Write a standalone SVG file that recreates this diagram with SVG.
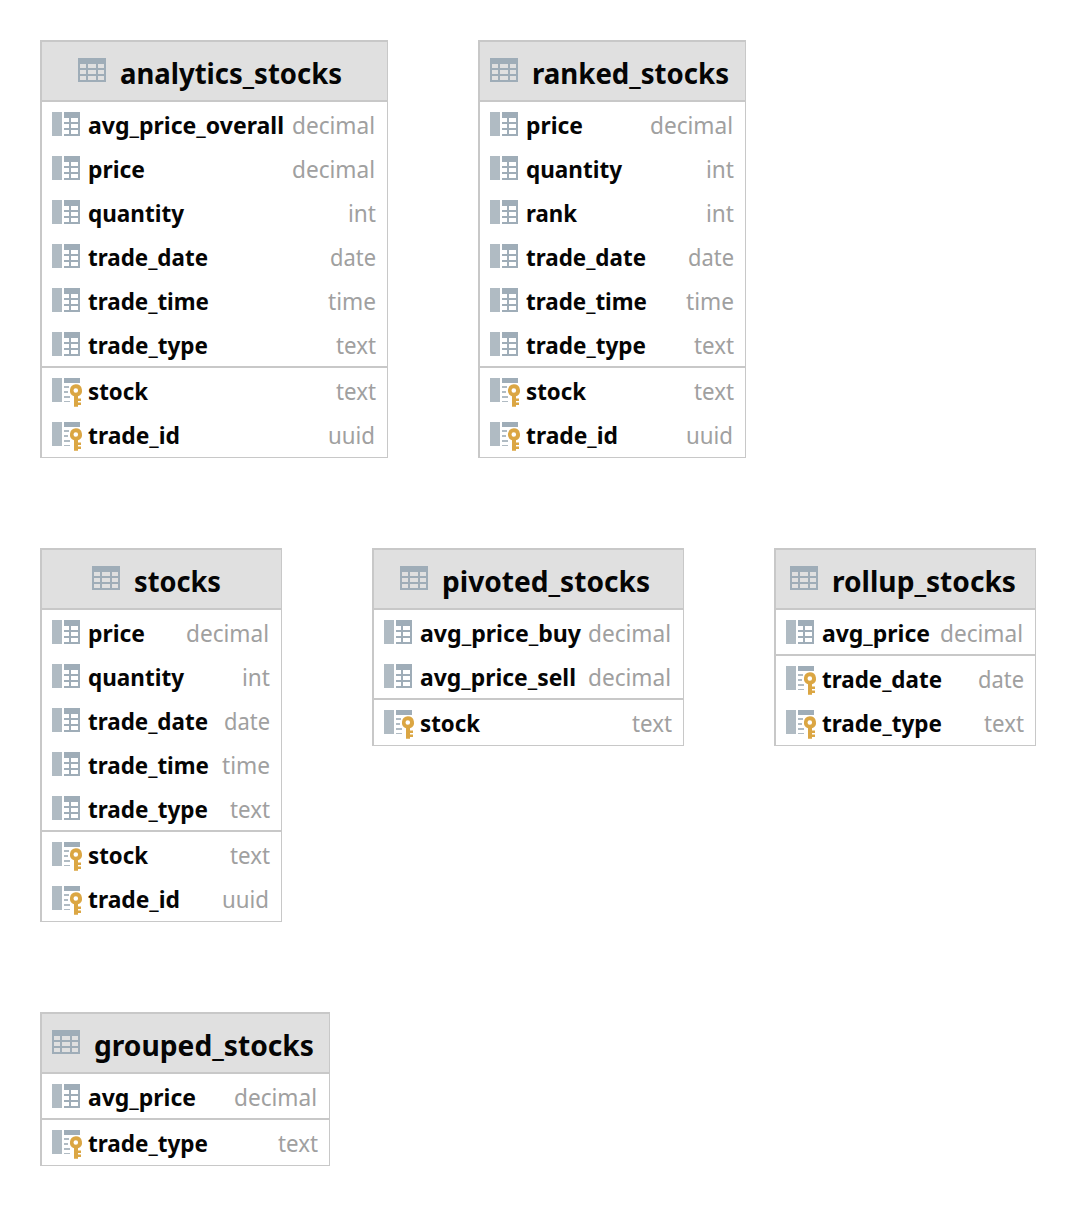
<svg xmlns="http://www.w3.org/2000/svg" width="1076" height="1206" viewBox="0 0 1076 1206">
<style>
text{font-family:"Noto Sans","Open Sans","Liberation Sans",sans-serif}
.edge{fill:#c8c8c8}
.box{fill:#fff}
.head{fill:#e0e0e0}
.div{stroke:#c8c8c8;stroke-width:2;fill:none}
.t{font-size:29px;font-weight:700;fill:#050505}
.n{font-size:24px;font-weight:700;fill:#050505}
.y{font-size:24px;font-weight:400;fill:#a0a0a0}
</style>
<defs>
<g id="ti"><rect width="28" height="24" fill="#9fadb8"/><path fill="#e0e0e0" d="M2 6h6v4H2zM10 6h8v4h-8zM20 6h6v4h-6zM2 12h6v4H2zM10 12h8v4h-8zM20 12h6v4h-6zM2 18h6v4H2zM10 18h8v4h-8zM20 18h6v4h-6z"/></g>
<g id="ci"><rect width="10" height="24" fill="#b0bbc3"/><rect x="12" width="16" height="24" fill="#9fadb8"/><path fill="#fff" d="M12 6h5v4h-5zM19 6h7v4h-7zM12 12h5v4h-5zM19 12h7v4h-7zM12 18h5v4h-5zM19 18h7v4h-7z"/></g>
<g id="ki"><rect width="10" height="24" fill="#b0bbc3"/><rect x="12" width="16" height="5" fill="#9fadb8"/><path fill="#b0bbc3" d="M12 8h5v2h-5zM12 13h4v2h-4zM12 18h6v2h-6zM12 23h6v1h-6z"/><path fill="#dba643" fill-rule="evenodd" d="M23.800 6.300a6.200 6.200 0 0 1 2.200 12V20.500h3V23h-3v1.500h3V27h-3v1.700h-4V18.300a6.200 6.200 0 0 1 1.800-12zM23.800 10.200a2.300 2.300 0 1 0 0 4.600a2.300 2.300 0 1 0 0-4.600z"/></g>
</defs>
<g id="connectors"/>

<g id="analytics_stocks">
<rect class="edge" x="40" y="40" width="348" height="418"/><rect class="box" x="42" y="42" width="345" height="415"/><rect class="head" x="42" y="42" width="345" height="58"/>
<path class="div" d="M42 101H387M42 367H387"/>
<use href="#ti" x="78" y="58"/><text class="t" x="120" y="84" textLength="222" lengthAdjust="spacingAndGlyphs">analytics_stocks</text>
<use href="#ci" x="52" y="112"/><text class="n" x="88" y="134" textLength="196" lengthAdjust="spacingAndGlyphs">avg_price_overall</text><text class="y" x="292" y="134" textLength="83" lengthAdjust="spacingAndGlyphs">decimal</text>
<use href="#ci" x="52" y="156"/><text class="n" x="88" y="178" textLength="57" lengthAdjust="spacingAndGlyphs">price</text><text class="y" x="292" y="178" textLength="83" lengthAdjust="spacingAndGlyphs">decimal</text>
<use href="#ci" x="52" y="200"/><text class="n" x="88" y="222" textLength="96" lengthAdjust="spacingAndGlyphs">quantity</text><text class="y" x="348" y="222" textLength="28" lengthAdjust="spacingAndGlyphs">int</text>
<use href="#ci" x="52" y="244"/><text class="n" x="88" y="266" textLength="120" lengthAdjust="spacingAndGlyphs">trade_date</text><text class="y" x="330" y="266" textLength="46" lengthAdjust="spacingAndGlyphs">date</text>
<use href="#ci" x="52" y="288"/><text class="n" x="88" y="310" textLength="121" lengthAdjust="spacingAndGlyphs">trade_time</text><text class="y" x="328" y="310" textLength="48" lengthAdjust="spacingAndGlyphs">time</text>
<use href="#ci" x="52" y="332"/><text class="n" x="88" y="354" textLength="120" lengthAdjust="spacingAndGlyphs">trade_type</text><text class="y" x="336" y="354" textLength="40" lengthAdjust="spacingAndGlyphs">text</text>
<use href="#ki" x="52" y="378"/><text class="n" x="88" y="400" textLength="60" lengthAdjust="spacingAndGlyphs">stock</text><text class="y" x="336" y="400" textLength="40" lengthAdjust="spacingAndGlyphs">text</text>
<use href="#ki" x="52" y="422"/><text class="n" x="88" y="444" textLength="92" lengthAdjust="spacingAndGlyphs">trade_id</text><text class="y" x="328" y="444" textLength="47" lengthAdjust="spacingAndGlyphs">uuid</text>
</g>

<g id="ranked_stocks">
<rect class="edge" x="478" y="40" width="268" height="418"/><rect class="box" x="480" y="42" width="265" height="415"/><rect class="head" x="480" y="42" width="265" height="58"/>
<path class="div" d="M480 101H745M480 367H745"/>
<use href="#ti" x="490" y="58"/><text class="t" x="532" y="84" textLength="197" lengthAdjust="spacingAndGlyphs">ranked_stocks</text>
<use href="#ci" x="490" y="112"/><text class="n" x="526" y="134" textLength="57" lengthAdjust="spacingAndGlyphs">price</text><text class="y" x="650" y="134" textLength="83" lengthAdjust="spacingAndGlyphs">decimal</text>
<use href="#ci" x="490" y="156"/><text class="n" x="526" y="178" textLength="96" lengthAdjust="spacingAndGlyphs">quantity</text><text class="y" x="706" y="178" textLength="28" lengthAdjust="spacingAndGlyphs">int</text>
<use href="#ci" x="490" y="200"/><text class="n" x="526" y="222" textLength="51" lengthAdjust="spacingAndGlyphs">rank</text><text class="y" x="706" y="222" textLength="28" lengthAdjust="spacingAndGlyphs">int</text>
<use href="#ci" x="490" y="244"/><text class="n" x="526" y="266" textLength="120" lengthAdjust="spacingAndGlyphs">trade_date</text><text class="y" x="688" y="266" textLength="46" lengthAdjust="spacingAndGlyphs">date</text>
<use href="#ci" x="490" y="288"/><text class="n" x="526" y="310" textLength="121" lengthAdjust="spacingAndGlyphs">trade_time</text><text class="y" x="686" y="310" textLength="48" lengthAdjust="spacingAndGlyphs">time</text>
<use href="#ci" x="490" y="332"/><text class="n" x="526" y="354" textLength="120" lengthAdjust="spacingAndGlyphs">trade_type</text><text class="y" x="694" y="354" textLength="40" lengthAdjust="spacingAndGlyphs">text</text>
<use href="#ki" x="490" y="378"/><text class="n" x="526" y="400" textLength="60" lengthAdjust="spacingAndGlyphs">stock</text><text class="y" x="694" y="400" textLength="40" lengthAdjust="spacingAndGlyphs">text</text>
<use href="#ki" x="490" y="422"/><text class="n" x="526" y="444" textLength="92" lengthAdjust="spacingAndGlyphs">trade_id</text><text class="y" x="686" y="444" textLength="47" lengthAdjust="spacingAndGlyphs">uuid</text>
</g>

<g id="stocks">
<rect class="edge" x="40" y="548" width="242" height="374"/><rect class="box" x="42" y="550" width="239" height="371"/><rect class="head" x="42" y="550" width="239" height="58"/>
<path class="div" d="M42 609H281M42 831H281"/>
<use href="#ti" x="92" y="566"/><text class="t" x="134" y="592" textLength="87" lengthAdjust="spacingAndGlyphs">stocks</text>
<use href="#ci" x="52" y="620"/><text class="n" x="88" y="642" textLength="57" lengthAdjust="spacingAndGlyphs">price</text><text class="y" x="186" y="642" textLength="83" lengthAdjust="spacingAndGlyphs">decimal</text>
<use href="#ci" x="52" y="664"/><text class="n" x="88" y="686" textLength="96" lengthAdjust="spacingAndGlyphs">quantity</text><text class="y" x="242" y="686" textLength="28" lengthAdjust="spacingAndGlyphs">int</text>
<use href="#ci" x="52" y="708"/><text class="n" x="88" y="730" textLength="120" lengthAdjust="spacingAndGlyphs">trade_date</text><text class="y" x="224" y="730" textLength="46" lengthAdjust="spacingAndGlyphs">date</text>
<use href="#ci" x="52" y="752"/><text class="n" x="88" y="774" textLength="121" lengthAdjust="spacingAndGlyphs">trade_time</text><text class="y" x="222" y="774" textLength="48" lengthAdjust="spacingAndGlyphs">time</text>
<use href="#ci" x="52" y="796"/><text class="n" x="88" y="818" textLength="120" lengthAdjust="spacingAndGlyphs">trade_type</text><text class="y" x="230" y="818" textLength="40" lengthAdjust="spacingAndGlyphs">text</text>
<use href="#ki" x="52" y="842"/><text class="n" x="88" y="864" textLength="60" lengthAdjust="spacingAndGlyphs">stock</text><text class="y" x="230" y="864" textLength="40" lengthAdjust="spacingAndGlyphs">text</text>
<use href="#ki" x="52" y="886"/><text class="n" x="88" y="908" textLength="92" lengthAdjust="spacingAndGlyphs">trade_id</text><text class="y" x="222" y="908" textLength="47" lengthAdjust="spacingAndGlyphs">uuid</text>
</g>

<g id="pivoted_stocks">
<rect class="edge" x="372" y="548" width="312" height="198"/><rect class="box" x="374" y="550" width="309" height="195"/><rect class="head" x="374" y="550" width="309" height="58"/>
<path class="div" d="M374 609H683M374 699H683"/>
<use href="#ti" x="400" y="566"/><text class="t" x="442" y="592" textLength="208" lengthAdjust="spacingAndGlyphs">pivoted_stocks</text>
<use href="#ci" x="384" y="620"/><text class="n" x="420" y="642" textLength="161" lengthAdjust="spacingAndGlyphs">avg_price_buy</text><text class="y" x="588" y="642" textLength="83" lengthAdjust="spacingAndGlyphs">decimal</text>
<use href="#ci" x="384" y="664"/><text class="n" x="420" y="686" textLength="156" lengthAdjust="spacingAndGlyphs">avg_price_sell</text><text class="y" x="588" y="686" textLength="83" lengthAdjust="spacingAndGlyphs">decimal</text>
<use href="#ki" x="384" y="710"/><text class="n" x="420" y="732" textLength="60" lengthAdjust="spacingAndGlyphs">stock</text><text class="y" x="632" y="732" textLength="40" lengthAdjust="spacingAndGlyphs">text</text>
</g>

<g id="rollup_stocks">
<rect class="edge" x="774" y="548" width="262" height="198"/><rect class="box" x="776" y="550" width="259" height="195"/><rect class="head" x="776" y="550" width="259" height="58"/>
<path class="div" d="M776 609H1035M776 655H1035"/>
<use href="#ti" x="790" y="566"/><text class="t" x="832" y="592" textLength="184" lengthAdjust="spacingAndGlyphs">rollup_stocks</text>
<use href="#ci" x="786" y="620"/><text class="n" x="822" y="642" textLength="108" lengthAdjust="spacingAndGlyphs">avg_price</text><text class="y" x="940" y="642" textLength="83" lengthAdjust="spacingAndGlyphs">decimal</text>
<use href="#ki" x="786" y="666"/><text class="n" x="822" y="688" textLength="120" lengthAdjust="spacingAndGlyphs">trade_date</text><text class="y" x="978" y="688" textLength="46" lengthAdjust="spacingAndGlyphs">date</text>
<use href="#ki" x="786" y="710"/><text class="n" x="822" y="732" textLength="120" lengthAdjust="spacingAndGlyphs">trade_type</text><text class="y" x="984" y="732" textLength="40" lengthAdjust="spacingAndGlyphs">text</text>
</g>

<g id="grouped_stocks">
<rect class="edge" x="40" y="1012" width="290" height="154"/><rect class="box" x="42" y="1014" width="287" height="151"/><rect class="head" x="42" y="1014" width="287" height="58"/>
<path class="div" d="M42 1073H329M42 1119H329"/>
<use href="#ti" x="52" y="1030"/><text class="t" x="94" y="1056" textLength="220" lengthAdjust="spacingAndGlyphs">grouped_stocks</text>
<use href="#ci" x="52" y="1084"/><text class="n" x="88" y="1106" textLength="108" lengthAdjust="spacingAndGlyphs">avg_price</text><text class="y" x="234" y="1106" textLength="83" lengthAdjust="spacingAndGlyphs">decimal</text>
<use href="#ki" x="52" y="1130"/><text class="n" x="88" y="1152" textLength="120" lengthAdjust="spacingAndGlyphs">trade_type</text><text class="y" x="278" y="1152" textLength="40" lengthAdjust="spacingAndGlyphs">text</text>
</g>
</svg>
